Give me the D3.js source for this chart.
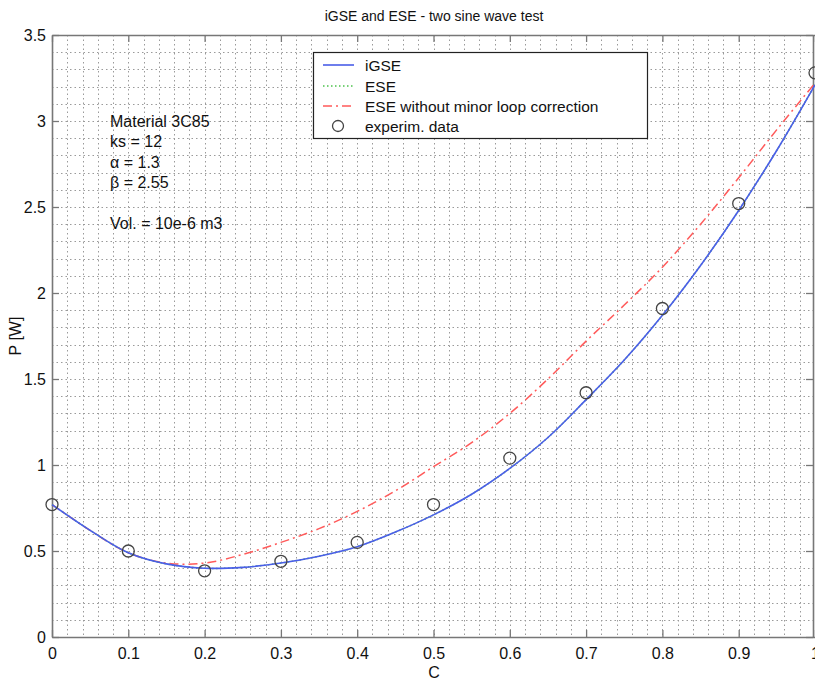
<!DOCTYPE html>
<html>
<head>
<meta charset="utf-8">
<script src="https://cdn.jsdelivr.net/npm/d3@7"></script>
<style>
  body { margin: 0; background: #fff; }
  text { font-family: "Liberation Sans", Arial, sans-serif; fill: #111; }
</style>
</head>
<body>
<div id="chart"></div>
<script>
// curve sample positions (C)
var cSamples = [0, 0.05, 0.1, 0.15, 0.2, 0.25, 0.3, 0.35, 0.4, 0.45, 0.5,
                0.55, 0.6, 0.65, 0.7, 0.75, 0.8, 0.85, 0.9, 0.95, 1.0];
var igse = [0.77, 0.62, 0.49, 0.425, 0.40, 0.405, 0.43, 0.47, 0.525, 0.61, 0.71,
            0.83, 0.98, 1.16, 1.38, 1.61, 1.87, 2.16, 2.48, 2.83, 3.21];
var ese = [0.77, 0.62, 0.49, 0.425, 0.40, 0.405, 0.43, 0.47, 0.525, 0.61, 0.71,
           0.83, 0.98, 1.16, 1.38, 1.61, 1.87, 2.16, 2.48, 2.83, 3.21];
var eseNoMinor = [0.77, 0.62, 0.49, 0.43, 0.43, 0.48, 0.55, 0.63, 0.73, 0.85, 0.99,
                  1.13, 1.30, 1.50, 1.72, 1.93, 2.15, 2.40, 2.67, 2.95, 3.22];

// measured points
var expC = [0, 0.1, 0.2, 0.3, 0.4, 0.5, 0.6, 0.7, 0.8, 0.9, 1.0];
var expP = [0.77, 0.50, 0.385, 0.44, 0.55, 0.77, 1.04, 1.42, 1.91, 2.52, 3.28];

var xTicks = [0, 0.1, 0.2, 0.3, 0.4, 0.5, 0.6, 0.7, 0.8, 0.9, 1];
var yTicks = [0, 0.5, 1, 1.5, 2, 2.5, 3, 3.5];

var notes = ['Material 3C85', 'ks = 12', '\u03b1 = 1.3', '\u03b2 = 2.55', '', 'Vol. = 10e-6 m3'];
var legendItems = ['iGSE', 'ESE', 'ESE without minor loop correction', 'experim. data'];

var width = 815, height = 682;
var plotLeft = 52, plotRight = 815, plotTop = 35, plotBottom = 637;
var gridColor = '#9a9a9a';
var axisColor = '#777';
var blue = '#4a5ee8';
var red = '#ff5a5a';
var green = '#4cc24c';

var svg = d3.select('#chart').append('svg')
    .attr('width', width)
    .attr('height', height);

var x = d3.scaleLinear().domain([0, 1]).range([plotLeft, plotRight]);
var y = d3.scaleLinear().domain([0, 3.5]).range([plotBottom, plotTop]);

// grid: minor x every 0.02, minor y every 0.1
var grid = svg.append('g');
grid.selectAll('.gx').data(d3.range(1, 50).map(function(i) { return i / 50; }))
    .enter().append('line')
    .attr('x1', function(d) { return Math.round(x(d)) + 0.5; })
    .attr('x2', function(d) { return Math.round(x(d)) + 0.5; })
    .attr('y1', plotTop).attr('y2', plotBottom)
    .attr('stroke', gridColor).attr('stroke-width', 1)
    .attr('stroke-dasharray', '1.5,3');
grid.selectAll('.gy').data(d3.range(1, 35).map(function(i) { return i / 10; }))
    .enter().append('line')
    .attr('y1', function(d) { return Math.round(y(d)) + 0.5; })
    .attr('y2', function(d) { return Math.round(y(d)) + 0.5; })
    .attr('x1', plotLeft).attr('x2', plotRight)
    .attr('stroke', gridColor).attr('stroke-width', 1)
    .attr('stroke-dasharray', '1.5,3');

// frame and axes
var fmt = d3.format('');
var xAxis = d3.axisBottom(x).tickValues(xTicks).tickSizeInner(-7).tickSizeOuter(0)
    .tickPadding(11).tickFormat(fmt);
var gx = svg.append('g').attr('transform', 'translate(0,' + plotBottom + ')').call(xAxis);
var xTop = d3.axisTop(x).tickValues(xTicks).tickSizeInner(-7).tickSizeOuter(0).tickFormat('');
var gxt = svg.append('g').attr('transform', 'translate(0,' + plotTop + ')').call(xTop);
var yAxis = d3.axisLeft(y).tickValues(yTicks).tickSizeInner(-7).tickSizeOuter(0)
    .tickPadding(6).tickFormat(fmt);
var gy = svg.append('g').attr('transform', 'translate(' + plotLeft + ',0)').call(yAxis);
var yRight = d3.axisRight(y).tickValues(yTicks).tickSizeInner(-7).tickSizeOuter(0).tickFormat('');
var gyr = svg.append('g').attr('transform', 'translate(' + (plotRight - 2) + ',0)').call(yRight);

[gx, gxt, gy, gyr].forEach(function(g) {
    g.selectAll('path').attr('stroke', axisColor).attr('stroke-width', 1.6);
    g.selectAll('line').attr('stroke', axisColor).attr('stroke-width', 1.3);
    g.selectAll('text').style('font-size', '16px')
        .style('font-family', '"Liberation Sans", Arial, sans-serif').attr('fill', '#111');
});

// curves
var curveLine = d3.line()
    .x(function(d) { return x(d[0]); })
    .y(function(d) { return y(d[1]); })
    .curve(d3.curveCatmullRom);

function pairs(xs, ys) {
    return xs.map(function(v, i) { return [v, ys[i]]; });
}

svg.append('path').attr('d', curveLine(pairs(cSamples, eseNoMinor)))
    .attr('fill', 'none').attr('stroke', red).attr('stroke-width', 1.5)
    .attr('stroke-dasharray', '9,4,2,4');
svg.append('path').attr('d', curveLine(pairs(cSamples, ese)))
    .attr('fill', 'none').attr('stroke', green).attr('stroke-width', 1.5)
    .attr('stroke-dasharray', '1.5,2.5');
svg.append('path').attr('d', curveLine(pairs(cSamples, igse)))
    .attr('fill', 'none').attr('stroke', blue).attr('stroke-width', 1.6);

// experimental points
svg.selectAll('.pt').data(pairs(expC, expP)).enter().append('circle')
    .attr('cx', function(d) { return x(d[0]); })
    .attr('cy', function(d) { return y(d[1]); })
    .attr('r', 6)
    .attr('fill', 'none').attr('stroke', '#444').attr('stroke-width', 1.3);

// annotations
svg.selectAll('.note').data(notes).enter().append('text')
    .attr('x', 110)
    .attr('y', function(d, i) { return 127 + i * 20.4; })
    .style('font-size', '16px')
    .text(function(d) { return d; });

// legend
var lg = svg.append('g');
lg.append('rect').attr('x', 313.5).attr('y', 52.5).attr('width', 334).attr('height', 86)
    .attr('fill', '#fff').attr('stroke', '#222').attr('stroke-width', 1.2);
var legendY = [65, 86, 106, 126];
lg.append('line').attr('x1', 323).attr('x2', 354).attr('y1', legendY[0]).attr('y2', legendY[0])
    .attr('stroke', blue).attr('stroke-width', 1.6);
lg.append('line').attr('x1', 323).attr('x2', 354).attr('y1', legendY[1]).attr('y2', legendY[1])
    .attr('stroke', green).attr('stroke-width', 1.5).attr('stroke-dasharray', '1.5,2.5');
lg.append('line').attr('x1', 323).attr('x2', 354).attr('y1', legendY[2]).attr('y2', legendY[2])
    .attr('stroke', red).attr('stroke-width', 1.5).attr('stroke-dasharray', '9,4,2,4');
lg.append('circle').attr('cx', 338).attr('cy', legendY[3]).attr('r', 5.5)
    .attr('fill', 'none').attr('stroke', '#444').attr('stroke-width', 1.3);
lg.selectAll('.lt').data(legendItems).enter().append('text')
    .attr('x', 365)
    .attr('y', function(d, i) { return legendY[i] + 5.5; })
    .style('font-size', '15.5px')
    .text(function(d) { return d; });

// titles
svg.append('text').attr('x', 434).attr('y', 21).attr('text-anchor', 'middle')
    .style('font-size', '14px').text('iGSE and ESE - two sine wave test');
svg.append('text').attr('x', 434).attr('y', 678).attr('text-anchor', 'middle')
    .style('font-size', '16px').text('C');
svg.append('text').attr('transform', 'translate(21,336) rotate(-90)')
    .attr('text-anchor', 'middle').style('font-size', '16px').text('P [W]');
</script>
</body>
</html>
